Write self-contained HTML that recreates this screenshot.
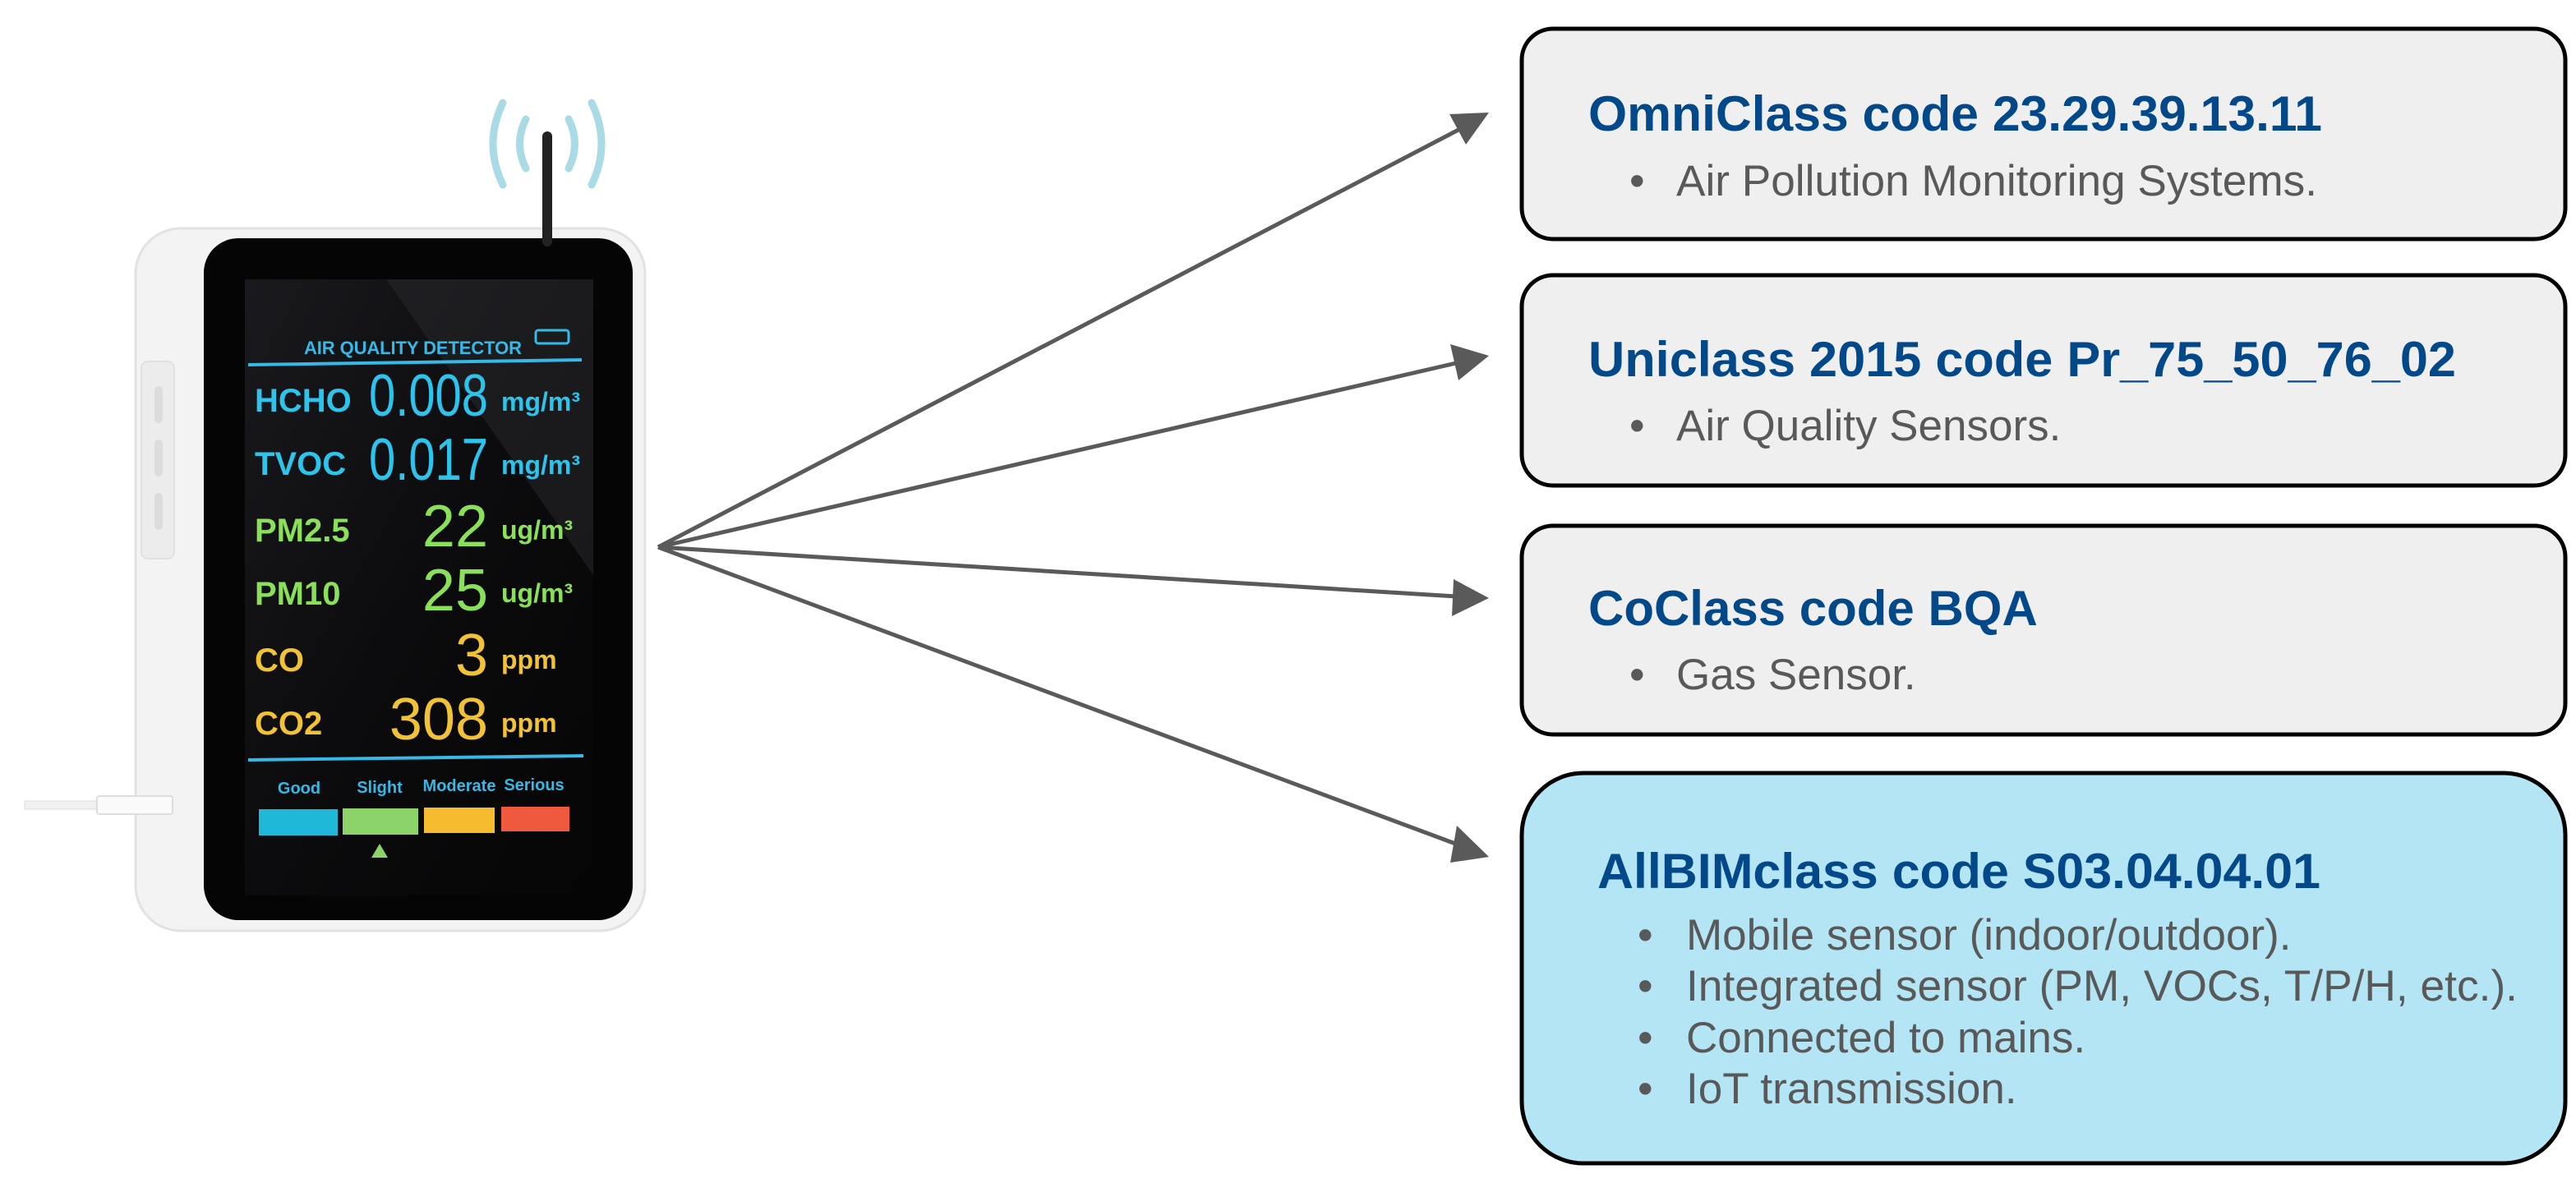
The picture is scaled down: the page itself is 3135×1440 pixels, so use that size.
<!DOCTYPE html>
<html><head><meta charset="utf-8"><style>
html,body{margin:0;padding:0;background:#fff;}
svg{display:block}
</style></head><body>
<svg width="3135" height="1440" viewBox="0 0 3135 1440" xmlns="http://www.w3.org/2000/svg">
<defs>
<linearGradient id="scr" x1="0" y1="0" x2="1" y2="1">
<stop offset="0" stop-color="#1a1a1e"/><stop offset="0.5" stop-color="#0c0c0e"/><stop offset="1" stop-color="#050505"/>
</linearGradient>
</defs>

<!-- Device -->
<rect x="165" y="278" width="620" height="855" rx="55" fill="#f3f3f3" stroke="#e2e2e2" stroke-width="3"/>
<rect x="172" y="440" width="40" height="240" rx="8" fill="#ececec" stroke="#e0e0e0" stroke-width="2"/>
<rect x="188" y="470" width="10" height="45" rx="5" fill="#dcdcdc"/>
<rect x="188" y="535" width="10" height="45" rx="5" fill="#dcdcdc"/>
<rect x="188" y="600" width="10" height="45" rx="5" fill="#dcdcdc"/>
<rect x="248" y="290" width="522" height="830" rx="42" fill="#050505"/>
<rect x="298" y="340" width="424" height="750" fill="url(#scr)"/>
<polygon points="470,340 722,340 722,700" fill="#2a2a2e" opacity="0.5"/>
<!-- antenna -->
<rect x="660" y="160" width="12" height="140" rx="6" fill="#222"/>
<g fill="none" stroke="#a9dbe6" stroke-width="9" stroke-linecap="round">
<path d="M640 145 Q625 175 640 205"/><path d="M612 125 Q588 175 612 225"/>
<path d="M692 145 Q707 175 692 205"/><path d="M720 125 Q744 175 720 225"/>
</g>
<!-- cable -->
<rect x="30" y="975" width="100" height="10" fill="#f0f0f0" stroke="#ddd" stroke-width="1"/>
<rect x="118" y="969" width="92" height="22" rx="3" fill="#fafafa" stroke="#ddd" stroke-width="2"/>
<!-- screen text -->
<g font-family="Liberation Sans, sans-serif" font-weight="bold">
<text x="370" y="431" font-size="22" fill="#35b9e6" textLength="265">AIR QUALITY DETECTOR</text>
<rect x="652" y="402" width="40" height="16" rx="3" fill="none" stroke="#35b9e6" stroke-width="3"/>
<line x1="302" y1="444" x2="708" y2="438" stroke="#35b9e6" stroke-width="4"/>
<g font-size="40">
<text x="310" y="501" fill="#2ec3ea">HCHO</text>
<text x="310" y="578" fill="#2ec3ea">TVOC</text>
<text x="310" y="659" fill="#8be05a">PM2.5</text>
<text x="310" y="736" fill="#8be05a">PM10</text>
<text x="310" y="817" fill="#f2c236">CO</text>
<text x="310" y="894" fill="#f2c236">CO2</text>
</g>
<g font-size="72" font-weight="normal" text-anchor="end" font-family="Liberation Sans Narrow, Liberation Sans, sans-serif">
<text x="594" y="506" fill="#2ec3ea" textLength="145" lengthAdjust="spacingAndGlyphs">0.008</text>
<text x="594" y="584" fill="#2ec3ea" textLength="145" lengthAdjust="spacingAndGlyphs">0.017</text>
<text x="594" y="665" fill="#8be05a">22</text>
<text x="594" y="743" fill="#8be05a">25</text>
<text x="594" y="822" fill="#f2c236">3</text>
<text x="594" y="900" fill="#f2c236">308</text>
</g>
<g font-size="32">
<text x="610" y="500" fill="#2ec3ea">mg/m³</text>
<text x="610" y="577" fill="#2ec3ea">mg/m³</text>
<text x="610" y="656" fill="#8be05a">ug/m³</text>
<text x="610" y="733" fill="#8be05a">ug/m³</text>
<text x="610" y="814" fill="#f2c236">ppm</text>
<text x="610" y="891" fill="#f2c236">ppm</text>
</g>
<line x1="302" y1="925" x2="710" y2="920" stroke="#35b9e6" stroke-width="4"/>
<g font-size="20" text-anchor="middle" fill="#35b9e6">
<text x="364" y="966">Good</text><text x="462" y="965">Slight</text>
<text x="559" y="963">Moderate</text><text x="650" y="962">Serious</text>
</g>
</g>
<rect x="315" y="985" width="96" height="32" fill="#1fb8d8"/>
<rect x="417" y="984" width="92" height="32" fill="#8cd46a"/>
<rect x="516" y="983" width="86" height="31" fill="#f6bb2e"/>
<rect x="610" y="982" width="83" height="30" fill="#ef5a3e"/>
<polygon points="462,1027 452,1044 472,1044" fill="#8cd46a"/>

<!-- arrows -->
<g stroke="#5a5a5a" stroke-width="5" fill="#5a5a5a">
<line x1="801" y1="666" x2="1775" y2="158"/>
<line x1="801" y1="666" x2="1772" y2="442"/>
<line x1="801" y1="666" x2="1772" y2="726"/>
<line x1="801" y1="666" x2="1774" y2="1028"/>
</g>
<g fill="#5a5a5a">
<polygon points="1812,137 1764,139 1784,176" />
<polygon points="1812,433 1765,419 1775,463" />
<polygon points="1812,728 1769,705 1767,750" />
<polygon points="1812,1043 1773,1005 1765,1050" />
</g>

<!-- boxes -->
<g stroke="#000" stroke-width="5">
<rect x="1852" y="35" width="1270" height="256" rx="38" fill="#efefef"/>
<rect x="1852" y="335" width="1270" height="256" rx="38" fill="#efefef"/>
<rect x="1852" y="640" width="1270" height="254" rx="38" fill="#efefef"/>
<rect x="1852" y="941" width="1270" height="475" rx="75" fill="#b3e5f5"/>
</g>
<g font-family="Liberation Sans, sans-serif">
<g font-weight="bold" fill="#03498a" font-size="60">
<text x="1933" y="159" textLength="893" lengthAdjust="spacingAndGlyphs">OmniClass code 23.29.39.13.11</text>
<text x="1933" y="458" textLength="1056" lengthAdjust="spacingAndGlyphs">Uniclass 2015 code Pr_75_50_76_02</text>
<text x="1933" y="761">CoClass code BQA</text>
<text x="1944" y="1081" textLength="880" lengthAdjust="spacingAndGlyphs">AllBIMclass code S03.04.04.01</text>
</g>
<g fill="#595959" font-size="53">
<text x="1983" y="238">•</text><text x="2040" y="238" textLength="780" lengthAdjust="spacingAndGlyphs">Air Pollution Monitoring Systems.</text>
<text x="1983" y="536">•</text><text x="2040" y="536">Air Quality Sensors.</text>
<text x="1983" y="839">•</text><text x="2040" y="839">Gas Sensor.</text>
<text x="1993" y="1156">•</text><text x="2052" y="1156">Mobile sensor (indoor/outdoor).</text>
<text x="1993" y="1218">•</text><text x="2052" y="1218" textLength="1012" lengthAdjust="spacingAndGlyphs">Integrated sensor (PM, VOCs, T/P/H, etc.).</text>
<text x="1993" y="1281">•</text><text x="2052" y="1281">Connected to mains.</text>
<text x="1993" y="1343">•</text><text x="2052" y="1343">IoT transmission.</text>
</g>
</g>
</svg>
</body></html>
